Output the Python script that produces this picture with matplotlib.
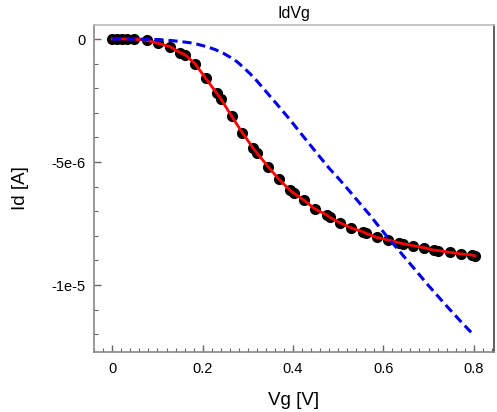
import matplotlib
matplotlib.use("Agg")
import matplotlib.pyplot as plt
from matplotlib.ticker import MultipleLocator, FuncFormatter
import numpy as np

plt.rcParams['font.family'] = ['Liberation Sans', 'DejaVu Sans']

# measured data (Vg [V], Id [1e-6 A])
vg_meas = [0, 0.01, 0.021, 0.032, 0.047, 0.076, 0.102, 0.128, 0.15, 0.161,
           0.183, 0.207, 0.231, 0.241, 0.264, 0.288, 0.312, 0.321, 0.345, 0.369,
           0.393, 0.402, 0.424, 0.449, 0.475, 0.482, 0.504, 0.528, 0.554, 0.562,
           0.585, 0.611, 0.635, 0.644, 0.666, 0.69, 0.712, 0.722, 0.748, 0.771,
           0.796, 0.803]
id_meas = [0, 0, 0, 0, 0, -0.05, -0.18, -0.31, -0.55, -0.64,
           -1.0, -1.6, -2.2, -2.45, -3.13, -3.81, -4.44, -4.65, -5.19, -5.7,
           -6.14, -6.27, -6.55, -6.91, -7.15, -7.25, -7.47, -7.67, -7.83, -7.9,
           -8.06, -8.17, -8.28, -8.32, -8.4, -8.48, -8.58, -8.6, -8.67, -8.73,
           -8.78, -8.81]

# model curve (Vg [V], Id [1e-6 A])
vg_model = [0, 0.05, 0.1, 0.135, 0.172, 0.19, 0.209, 0.228, 0.246, 0.261,
            0.276, 0.29, 0.305, 0.32, 0.334, 0.349, 0.364, 0.393, 0.415, 0.437,
            0.459, 0.48, 0.504, 0.526, 0.548, 0.57, 0.585, 0.607, 0.63, 0.667,
            0.7, 0.74, 0.77, 0.8]
id_model = [0, 0, -0.02, -0.07, -0.15, -0.22, -0.31, -0.43, -0.58, -0.74,
            -0.92, -1.15, -1.41, -1.7, -2.0, -2.32, -2.64, -3.27, -3.78, -4.28,
            -4.78, -5.25, -5.73, -6.2, -6.68, -7.15, -7.5, -8.0, -8.5, -9.3,
            -10.02, -10.85, -11.45, -12.03]

fig = plt.figure(figsize=(4.97, 4.12), dpi=100)
ax = fig.add_axes([94/497, 60/412, 400/497, 327/412])

scale = 1e-6
ax.plot(vg_meas, np.array(id_meas) * scale, 'o', color='black', markersize=7, zorder=2)
ax.plot(vg_meas, np.array(id_meas) * scale, '-', color='#ff0000', lw=2, zorder=3)
ax.plot(vg_model, np.array(id_model) * scale, '--', color='#0000ee', lw=2.2,
        dashes=(3, 1.6), zorder=4)

ax.set_xlim(-0.0405, 0.845)
ax.set_ylim(-12.72e-6, 0.57e-6)

ax.xaxis.set_major_locator(MultipleLocator(0.2))
ax.xaxis.set_minor_locator(MultipleLocator(0.02))
ax.yaxis.set_major_locator(MultipleLocator(5e-6))
ax.yaxis.set_minor_locator(MultipleLocator(1e-6))

def xfmt(v, pos):
    if abs(v) < 1e-9:
        return '0'
    return f'{v:.1f}'

def yfmt(v, pos):
    if abs(v) < 1e-12:
        return '0'
    m = v / 1e-6
    if abs(m + 5) < 1e-6:
        return '-5e-6'
    if abs(m + 10) < 1e-6:
        return '-1e-5'
    return f'{v:g}'

ax.xaxis.set_major_formatter(FuncFormatter(xfmt))
ax.yaxis.set_major_formatter(FuncFormatter(yfmt))

ax.tick_params(which='both', direction='in', colors='#666666', labelcolor='black',
               labelsize=10.5)
ax.tick_params(which='major', length=5, width=1)
ax.tick_params(which='minor', length=3, width=0.8)
ax.tick_params(axis='x', pad=7)
ax.tick_params(axis='y', pad=6)

ax.spines['left'].set_color('#888888')
ax.spines['bottom'].set_color('#888888')
ax.spines['top'].set_color('#bbbbbb')
ax.spines['right'].set_color('#444444')
for s in ax.spines.values():
    s.set_linewidth(1.2)

ax.set_xlabel('Vg [V]', fontsize=13.5, labelpad=12)
ax.set_ylabel('Id [A]', fontsize=13.5, labelpad=16)
ax.set_title('IdVg', fontsize=11.5, pad=5)

fig.savefig('out.png', dpi=100)
